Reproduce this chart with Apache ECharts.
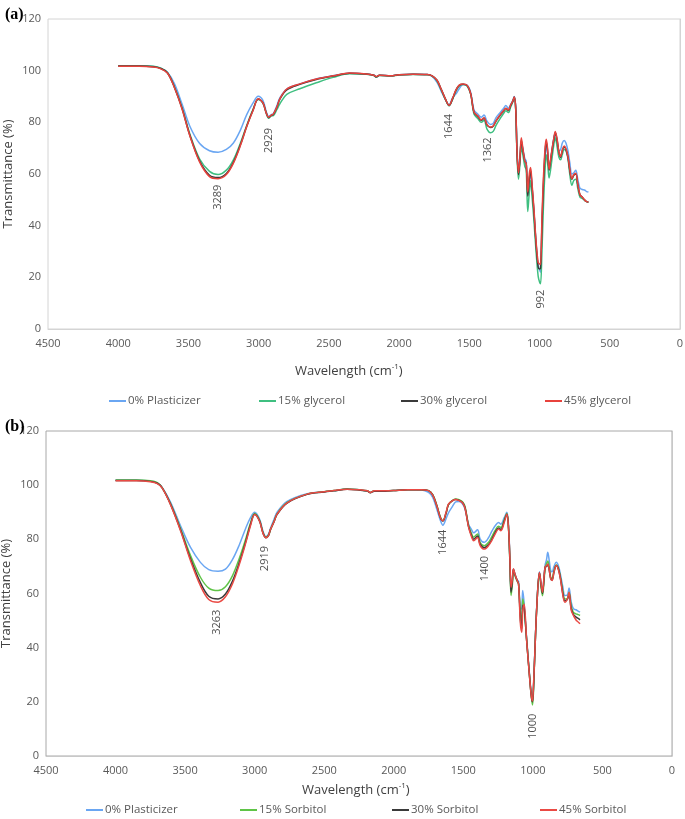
<!DOCTYPE html>
<html>
<head>
<meta charset="utf-8">
<script src="https://cdn.jsdelivr.net/npm/echarts/dist/echarts.min.js"></script>
<style>
html, body { margin: 0; padding: 0; background: #fff; }
#chart { width: 685px; height: 819px; }
</style>
</head>
<body>
<div id="chart"></div>
<script>
// ---- panel (a): glycerol films ----
const waveA = [4000, 3850, 3750, 3700, 3650, 3600, 3545, 3490, 3420, 3350,
  3289, 3230, 3180, 3130, 3085, 3040, 3003, 2970, 2945, 2929,
  2910, 2896, 2870, 2849, 2800, 2707, 2590, 2470, 2353, 2234,
  2180, 2163, 2140, 2060, 2000, 1900, 1800, 1765, 1730, 1700,
  1670, 1644, 1620, 1595, 1570, 1545, 1515, 1490, 1467, 1440,
  1415, 1395, 1375, 1350, 1330, 1310, 1280, 1255, 1240, 1222,
  1205, 1190, 1180, 1170, 1160, 1150, 1140, 1130, 1118, 1105,
  1095, 1084, 1073, 1064, 1054, 1040, 1025, 1010, 1000, 993,
  983, 972, 960, 952, 943, 932, 922, 910, 898, 888,
  875, 862, 850, 838, 825, 812, 798, 785, 770, 756,
  742, 728, 712, 695, 680, 665, 652]
const plainA = [101.9, 101.9, 101.6, 101.0, 99.4, 95.0, 87.0, 78.5, 71.8, 69.0,
  68.4, 69.5, 72.0, 77.0, 83.0, 87.5, 90.1, 88.5, 84.0, 82.3,
  83.0, 83.3, 86.5, 89.5, 92.9, 94.9, 96.8, 98.0, 99.0, 98.7,
  98.2, 97.6, 98.2, 98.0, 98.4, 98.6, 98.5, 97.8, 95.5, 92.0,
  88.8, 86.8, 89.5, 91.0, 93.2, 94.6, 94.3, 91.5, 84.8, 83.2,
  82.0, 82.8, 80.5, 79.2, 79.6, 81.8, 83.8, 85.5, 86.5, 85.5,
  87.0, 88.5, 90.0, 86.0, 69.0, 61.5, 66.5, 72.0, 69.5, 66.0,
  65.0, 53.5, 57.0, 60.5, 55.0, 45.0, 33.5, 24.5, 22.8, 22.0,
  38.0, 55.0, 67.0, 71.0, 68.0, 62.5, 65.0, 70.0, 74.0, 76.0,
  72.5, 69.0, 69.5, 72.0, 73.0, 72.0, 69.0, 64.5, 60.0, 60.5,
  61.5, 58.0, 54.5, 54.0, 53.8, 53.2, 53.0]
const glycerol15 = [101.9, 101.9, 101.7, 101.1, 99.3, 93.8, 85.6, 75.5, 65.8, 61.0,
  59.8, 61.5, 65.5, 72.0, 78.8, 85.0, 88.8, 87.5, 83.5, 81.6,
  82.5, 82.6, 85.0, 87.2, 90.8, 93.0, 95.3, 97.4, 98.8, 98.6,
  98.1, 97.5, 98.1, 97.9, 98.3, 98.5, 98.4, 97.9, 96.0, 92.5,
  88.8, 86.4, 88.8, 92.2, 94.2, 94.6, 94.0, 90.8, 83.2, 81.5,
  80.0, 80.8, 77.5, 76.0, 76.5, 78.8, 81.5, 83.5, 84.5, 83.8,
  86.0, 88.0, 89.5, 85.0, 66.5, 58.0, 63.5, 70.5, 67.0, 63.0,
  61.5, 45.5, 53.0, 57.5, 51.5, 42.0, 30.0, 20.5, 18.2, 17.5,
  30.0, 48.0, 62.5, 67.5, 64.5, 58.5, 61.5, 66.5, 71.5, 74.0,
  70.5, 66.5, 65.5, 67.5, 69.5, 69.0, 66.0, 60.0, 55.6, 57.5,
  58.0, 54.5, 51.0, 50.5, 49.8, 49.3, 49.0]
const glycerol30 = [101.8, 101.8, 101.5, 100.9, 99.2, 93.6, 85.3, 75.0, 65.0, 59.5,
  58.6, 60.2, 64.5, 71.3, 78.5, 84.8, 89.0, 87.5, 83.4, 81.8,
  82.7, 83.0, 85.8, 89.0, 92.6, 94.7, 96.6, 97.9, 99.0, 98.7,
  98.2, 97.6, 98.2, 98.0, 98.4, 98.6, 98.5, 98.0, 96.3, 92.8,
  89.0, 86.5, 89.0, 92.5, 94.4, 94.7, 94.2, 91.0, 83.9, 82.3,
  80.8, 81.6, 79.0, 78.0, 78.5, 80.5, 82.8, 84.5, 85.4, 84.6,
  86.6, 88.2, 89.8, 85.5, 67.8, 59.8, 65.5, 73.0, 69.0, 65.0,
  64.0, 51.5, 58.0, 61.5, 55.5, 45.5, 33.0, 24.0, 23.2, 23.5,
  40.0, 57.0, 69.0, 72.5, 69.0, 61.5, 65.0, 69.5, 73.5, 76.0,
  73.0, 68.5, 66.5, 69.0, 70.5, 69.5, 66.5, 61.5, 58.0, 59.5,
  60.0, 56.0, 52.0, 51.0, 50.0, 49.3, 49.2]
const glycerol45 = [101.7, 101.7, 101.4, 100.8, 99.1, 93.5, 85.1, 74.8, 64.6, 59.0,
  58.2, 59.8, 64.2, 71.0, 78.4, 84.6, 89.1, 87.6, 83.4, 82.0,
  82.8, 83.2, 86.0, 89.1, 92.9, 94.9, 96.8, 98.0, 99.1, 98.7,
  98.2, 97.7, 98.2, 98.0, 98.4, 98.6, 98.5, 98.0, 96.3, 92.8,
  89.0, 86.6, 89.2, 92.6, 94.5, 94.8, 94.3, 91.0, 84.0, 82.5,
  81.0, 81.8, 79.2, 78.2, 78.6, 80.6, 83.0, 84.6, 85.5, 84.8,
  86.8, 88.3, 89.8, 85.6, 68.0, 60.5, 66.0, 74.0, 69.5, 65.0,
  64.0, 53.0, 60.0, 62.5, 56.5, 46.5, 34.0, 25.8, 25.2, 25.0,
  43.0, 59.0, 70.5, 73.5, 69.8, 61.8, 65.5, 70.0, 74.0, 76.5,
  73.5, 68.5, 66.8, 69.3, 70.8, 69.8, 66.8, 62.0, 58.2, 59.8,
  60.3, 56.2, 52.0, 51.0, 50.0, 49.3, 49.2]
const namesA = ['0% Plasticizer', '15% glycerol', '30% glycerol', '45% glycerol']
const peakTextA = ['3289', '2929', '1644', '1362', '992']
const peakWaveA = [3289, 2929, 1648, 1368, 988]
const peakLevelA = [51, 73, 78.4, 69.3, 11.6]

// ---- panel (b): sorbitol films ----
const waveB = [4000, 3850, 3750, 3700, 3665, 3605, 3533, 3461, 3390, 3330,
  3263, 3210, 3160, 3110, 3065, 3030, 3000, 2965, 2940, 2919,
  2900, 2887, 2860, 2839, 2767, 2623, 2500, 2432, 2336, 2250,
  2190, 2169, 2140, 2060, 2001, 1900, 1800, 1750, 1720, 1690,
  1665, 1647, 1625, 1607, 1580, 1555, 1530, 1505, 1487, 1462,
  1440, 1426, 1398, 1379, 1350, 1320, 1295, 1271, 1247, 1230,
  1206, 1187, 1175, 1165, 1157, 1148, 1140, 1128, 1113, 1103,
  1090, 1080, 1073, 1063, 1045, 1020, 1010, 1003, 995, 989,
  972, 953, 942, 931, 920, 912, 902, 893, 882, 872,
  862, 848, 832, 815, 800, 785, 770, 752, 740, 725,
  709, 690, 675, 661]
const plainB = [101.8, 101.8, 101.5, 100.8, 99.2, 93.8, 85.0, 77.0, 71.5, 68.8,
  68.2, 69.0, 72.5, 78.0, 84.0, 88.0, 90.0, 87.5, 83.0, 81.0,
  82.0, 84.0, 87.5, 90.0, 94.0, 96.8, 97.6, 98.0, 98.6, 98.3,
  97.9, 97.3, 97.9, 97.9, 98.0, 98.3, 98.2, 97.3, 95.5, 91.0,
  87.0, 85.2, 87.5, 89.8, 92.0, 93.8, 94.0, 93.0, 91.0, 85.5,
  83.5, 82.4, 83.5, 80.1, 78.9, 80.5, 83.0, 85.0, 86.2, 85.6,
  88.0, 90.0, 85.0, 72.5, 61.5, 64.5, 69.0, 67.0, 65.0, 64.5,
  54.0, 55.0, 61.1, 56.5, 43.5, 27.5, 22.5, 21.0, 26.0, 34.5,
  55.5, 68.0, 64.0, 60.3, 66.0, 70.5, 72.5, 75.2, 72.0, 68.5,
  68.0, 70.0, 71.5, 70.0, 66.5, 62.5, 59.3, 59.5, 62.0, 57.0,
  54.4, 54.0, 53.5, 53.1]
const sorbitol15 = [101.9, 101.9, 101.6, 100.9, 99.1, 93.2, 84.0, 74.0, 66.0, 62.0,
  61.1, 62.5, 66.5, 73.0, 80.0, 86.0, 89.5, 87.0, 82.5, 80.8,
  81.6, 83.5, 86.8, 89.4, 93.6, 96.7, 97.6, 98.0, 98.6, 98.3,
  97.9, 97.3, 97.9, 97.9, 98.0, 98.3, 98.3, 98.0, 96.5, 92.5,
  88.2, 86.9, 89.5, 92.8, 94.3, 94.9, 94.6, 93.8, 92.0, 85.0,
  82.0, 80.8, 82.0, 78.8, 77.6, 78.8, 81.0, 83.3, 84.8, 84.4,
  87.2, 89.5, 84.0, 71.0, 59.3, 63.0, 68.5, 66.5, 64.5, 63.5,
  52.5, 50.0, 58.0, 55.0, 43.0, 27.0, 21.5, 18.8, 24.5, 33.5,
  55.0, 67.5, 62.5, 59.2, 64.5, 69.5, 71.0, 72.0, 69.5, 66.0,
  65.5, 68.5, 70.5, 69.0, 65.5, 61.0, 58.0, 58.2, 60.5, 55.5,
  53.0, 52.5, 52.2, 51.9]
const sorbitol30 = [101.7, 101.7, 101.4, 100.7, 99.0, 93.0, 83.5, 72.8, 64.0, 59.0,
  58.0, 59.8, 64.5, 71.5, 79.0, 85.5, 89.3, 86.8, 82.3, 80.6,
  81.5, 83.5, 86.6, 89.2, 93.4, 96.6, 97.5, 97.9, 98.5, 98.2,
  97.8, 97.2, 97.8, 97.8, 98.0, 98.3, 98.3, 98.0, 96.4, 92.3,
  88.0, 86.8, 89.5, 92.8, 94.2, 94.7, 94.4, 93.5, 91.5, 84.6,
  81.3, 80.0, 81.2, 78.2, 76.9, 78.0, 80.0, 82.5, 84.2, 83.6,
  86.8, 89.3, 84.0, 71.5, 60.5, 64.0, 69.0, 66.8, 64.8, 63.5,
  50.5, 47.0, 55.6, 54.8, 42.8, 26.8, 21.5, 20.0, 26.0, 34.0,
  55.0, 67.8, 63.5, 60.0, 65.5, 69.7, 70.0, 70.5, 68.5, 65.5,
  65.0, 68.0, 70.3, 68.8, 65.0, 60.0, 57.3, 57.8, 60.0, 54.5,
  52.3, 51.3, 50.8, 50.3]
const sorbitol45 = [101.6, 101.6, 101.3, 100.6, 99.0, 92.8, 83.2, 72.1, 62.9, 57.8,
  56.8, 58.8, 63.5, 70.8, 78.5, 85.0, 89.2, 86.7, 82.2, 80.6,
  81.5, 83.6, 86.6, 89.3, 93.5, 96.7, 97.6, 98.0, 98.5, 98.3,
  97.9, 97.3, 97.9, 97.9, 98.0, 98.3, 98.3, 98.0, 96.3, 92.2,
  88.0, 86.9, 89.8, 93.0, 94.2, 94.7, 94.3, 93.4, 91.3, 84.4,
  80.8, 79.5, 80.7, 77.7, 76.4, 77.6, 79.6, 82.0, 83.8, 83.2,
  86.2, 89.3, 84.0, 72.5, 62.3, 65.0, 69.1, 67.0, 64.8, 63.5,
  49.0, 45.7, 53.5, 56.0, 42.7, 26.8, 21.7, 20.3, 27.0, 34.1,
  55.0, 67.8, 64.0, 60.5, 66.0, 69.7, 70.3, 70.9, 68.5, 65.5,
  64.8, 68.0, 70.3, 68.5, 64.8, 59.5, 56.8, 58.0, 60.5, 54.0,
  51.9, 50.2, 49.5, 48.8]
const namesB = ['0% Plasticizer ', '15% Sorbitol', '30% Sorbitol', '45% Sorbitol']
const peakTextB = ['3263', '2919', '1644', '1400', '1000']
const peakWaveB = [3275, 2925, 1650, 1345, 997]
const peakLevelB = [49.4, 72.9, 78.9, 69.2, 11]

const colorsA = ['#6aa6f2', '#3fbf80', '#3a3a3a', '#e8423c']
const colorsB = ['#6aa6f2', '#5fc447', '#3a3a3a', '#ea4a44']
const font = 'Open Sans'

const chart = echarts.init(document.getElementById('chart'))

// 一条光谱曲线
function lineSeries(name, wave, vals, color, idx) {
  return {
    name: name,
    type: 'line',
    xAxisIndex: idx,
    yAxisIndex: idx,
    data: wave.map((w, i) => [w, vals[i]]),
    symbol: 'none',
    smooth: 0.35,
    lineStyle: { color: color, width: 1.5 },
    itemStyle: { color: color },
    silent: true
  }
}

// 峰位标注 (竖排文字)
function peakSeries(texts, waves, levels, idx) {
  return {
    type: 'scatter',
    xAxisIndex: idx,
    yAxisIndex: idx,
    symbolSize: 0,
    silent: true,
    data: texts.map((t, i) => ({ name: t, value: [waves[i], levels[i]] })),
    label: {
      show: true,
      position: 'inside',
      rotate: 90,
      formatter: '{b}',
      color: '#222',
      fontSize: 11,
      fontFamily: font
    }
  }
}

function xAxisOpt(idx, lineColor) {
  return {
    gridIndex: idx,
    type: 'value',
    min: 0,
    max: 4500,
    interval: 500,
    inverse: true,
    axisLine: { show: true, lineStyle: { color: lineColor } },
    axisTick: { show: false },
    splitLine: { show: false },
    axisLabel: { color: '#595959', fontSize: 11, fontFamily: font, margin: 9, formatter: v => String(v) }
  }
}

function yAxisOpt(idx, lineColor) {
  return {
    gridIndex: idx,
    type: 'value',
    min: 0,
    max: 120,
    interval: 20,
    name: 'Transmittance (%)',
    nameLocation: 'middle',
    nameGap: 33,
    nameMoveOverlap: false,
    nameTextStyle: { color: '#404040', fontSize: 13, fontFamily: font },
    axisLine: { show: true, lineStyle: { color: lineColor } },
    axisTick: { show: false },
    splitLine: { show: false },
    axisLabel: { color: '#595959', fontSize: 11, fontFamily: font, margin: 7 }
  }
}

function legendItem(name, left, top) {
  return {
    data: [name],
    left: left,
    top: top,
    icon: 'rect',
    itemWidth: 17,
    itemHeight: 2,
    itemGap: 0,
    selectedMode: false,
    textStyle: { color: '#595959', fontSize: 11.5, fontFamily: font, padding: [0, 0, 0, -3] }
  }
}

const legendLeftA = [104, 254, 396, 540]
const legendLeftB = [81, 235, 387, 535]

const option = {
  animation: false,
  backgroundColor: '#fff',
  title: [
    { text: '(a)', left: 0, top: 2, textStyle: { fontFamily: 'Liberation Serif', fontWeight: 'bold', fontSize: 16, color: '#000' } },
    { text: '(b)', left: 0, top: 414, textStyle: { fontFamily: 'Liberation Serif', fontWeight: 'bold', fontSize: 16, color: '#000' } },
    {
      text: 'Wavelength (cm{s|-1})', left: 290, top: 358,
      textStyle: { color: '#404040', fontSize: 13, fontFamily: font, fontWeight: 'normal',
        rich: { s: { fontSize: 8, padding: [0, 0, 8, 0], color: '#404040', fontFamily: font } } }
    },
    {
      text: 'Wavelength (cm{s|-1})', left: 297, top: 777,
      textStyle: { color: '#404040', fontSize: 13, fontFamily: font, fontWeight: 'normal',
        rich: { s: { fontSize: 8, padding: [0, 0, 8, 0], color: '#404040', fontFamily: font } } }
    }
  ],
  legend: [
    legendItem(namesA[0], legendLeftA[0], 390),
    legendItem(namesA[1], legendLeftA[1], 390),
    legendItem(namesA[2], legendLeftA[2], 390),
    legendItem(namesA[3], legendLeftA[3], 390),
    legendItem(namesB[0], legendLeftB[0], 799),
    legendItem(namesB[1], legendLeftB[1], 799),
    legendItem(namesB[2], legendLeftB[2], 799),
    legendItem(namesB[3], legendLeftB[3], 799)
  ],
  grid: [
    { left: 48, top: 19, width: 632, height: 310, show: true, borderColor: '#d4d4d4', borderWidth: 1, outerBoundsMode: 'none' },
    { left: 46, top: 431, width: 626, height: 325, show: true, borderColor: '#a8a8a8', borderWidth: 1, outerBoundsMode: 'none' }
  ],
  xAxis: [xAxisOpt(0, '#d4d4d4'), xAxisOpt(1, '#c8c8c8')],
  yAxis: [yAxisOpt(0, '#d4d4d4'), yAxisOpt(1, '#c8c8c8')],
  series: [
    lineSeries(namesA[0], waveA, plainA, colorsA[0], 0),
    lineSeries(namesA[1], waveA, glycerol15, colorsA[1], 0),
    lineSeries(namesA[2], waveA, glycerol30, colorsA[2], 0),
    lineSeries(namesA[3], waveA, glycerol45, colorsA[3], 0),
    peakSeries(peakTextA, peakWaveA, peakLevelA, 0),
    lineSeries(namesB[0], waveB, plainB, colorsB[0], 1),
    lineSeries(namesB[1], waveB, sorbitol15, colorsB[1], 1),
    lineSeries(namesB[2], waveB, sorbitol30, colorsB[2], 1),
    lineSeries(namesB[3], waveB, sorbitol45, colorsB[3], 1),
    peakSeries(peakTextB, peakWaveB, peakLevelB, 1)
  ]
}

chart.setOption(option)
</script>
</body>
</html>
